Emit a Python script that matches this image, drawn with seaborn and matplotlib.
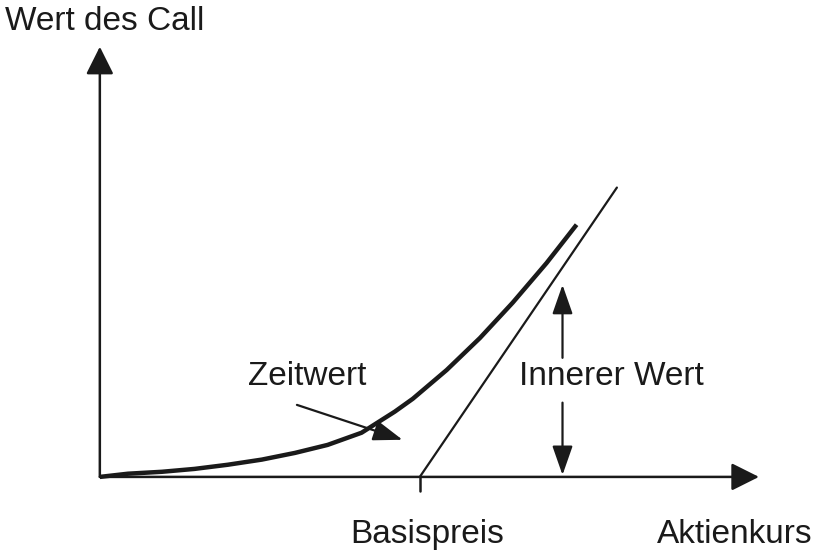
import numpy as np
import pandas as pd
import seaborn as sns
import matplotlib.pyplot as plt

# Werte (abstrakte Einheiten, Basispreis = 50)
aktienkurs = [0, 4.4, 9.7, 14.8, 20.0, 25.3, 30.5, 35.6, 40.9, 46.1,
              48.9, 54.2, 59.4, 64.5, 69.8, 74.5]
wert_call = [0, 0.5, 0.8, 1.25, 1.9, 2.7, 3.75, 5.0, 6.9, 10.2,
             12.2, 16.7, 21.7, 27.2, 33.4, 39.4]
basispreis = 50
innerer_x = [50, 80.8]
innerer_y = [0, 45.2]
x_max = 103
y_max = 67.2
pfeil_x = 72.3
pfeil_oben = [18.6, 30.0]
pfeil_unten = [11.6, 0.3]
zeit_start = (30.8, 11.25)
zeit_ende = (47.3, 5.8)

sns.set_theme(style="white")
plt.rcParams['font.family'] = ['Liberation Sans', 'DejaVu Sans']

fig = plt.figure(figsize=(8.14, 5.55), dpi=100)
ax = fig.add_axes([0, 0, 1, 1])
ax.set_xlim(-15.6, 111.6)
ax.set_ylim(-12.2, 74.5)
ax.axis('off')

farbe = '#1a1a1a'

kurve = pd.DataFrame({'x': aktienkurs, 'y': wert_call})
sns.lineplot(data=kurve, x='x', y='y', ax=ax, color=farbe, lw=3.2, sort=False,
             solid_joinstyle='round', solid_capstyle='butt')
linie = pd.DataFrame({'x': innerer_x, 'y': innerer_y})
sns.lineplot(data=linie, x='x', y='y', ax=ax, color=farbe, lw=1.6, sort=False)

# Achsen mit Pfeilspitzen
achse = dict(arrowstyle='-|>,head_length=1.0,head_width=0.5', color=farbe,
             lw=1.8, mutation_scale=17, shrinkA=0, shrinkB=0)
ax.annotate('', xy=(x_max, 0), xytext=(0, 0), arrowprops=achse)
ax.annotate('', xy=(0, y_max), xytext=(0, 0), arrowprops=achse)

# Markierung Basispreis
ax.plot([basispreis, basispreis], [0, -2.2], color=farbe, lw=1.8)

pfeil = dict(arrowstyle='-|>,head_length=1.0,head_width=0.35', color=farbe,
             lw=1.6, mutation_scale=18, shrinkA=0, shrinkB=0)
ax.annotate('', xy=(pfeil_x, pfeil_oben[1]), xytext=(pfeil_x, pfeil_oben[0]), arrowprops=pfeil)
ax.annotate('', xy=(pfeil_x, pfeil_unten[1]), xytext=(pfeil_x, pfeil_unten[0]), arrowprops=pfeil)
ax.annotate('', xy=zeit_ende, xytext=zeit_start, arrowprops=pfeil)

fs = 24
ax.text(-14.8, 69.8, 'Wert des Call', fontsize=fs, color=farbe, va='baseline', ha='left')
ax.text(basispreis + 1.2, -10.3, 'Basispreis', fontsize=fs, color=farbe, va='baseline', ha='center')
ax.text(111.4, -10.3, 'Aktienkurs', fontsize=fs, color=farbe, va='baseline', ha='right')
ax.text(23.1, 14.4, 'Zeitwert', fontsize=fs, color=farbe, va='baseline', ha='left')
ax.text(pfeil_x + 7.6, 14.4, 'Innerer Wert', fontsize=fs, color=farbe, va='baseline', ha='center')

fig.savefig('out.png', dpi=100, facecolor='white')
